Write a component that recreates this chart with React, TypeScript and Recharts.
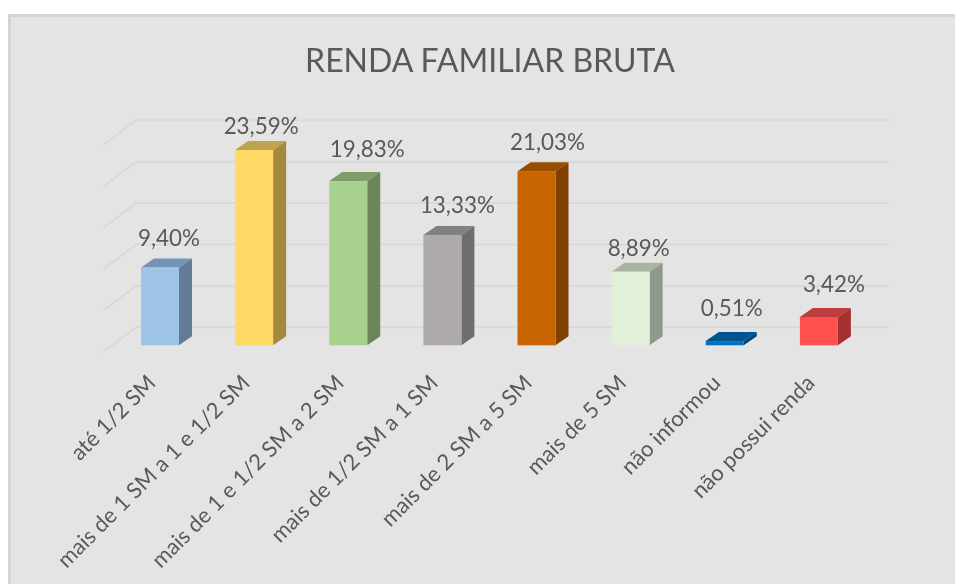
import React from "react";
import { BarChart, Bar, XAxis, YAxis, CartesianGrid, LabelList } from "recharts";

const categories = ["até 1/2 SM", "mais de 1 SM a 1 e 1/2 SM", "mais de 1 e 1/2 SM a 2 SM", "mais de 1/2 SM a 1 SM", "mais de 2 SM a 5 SM", "mais de 5 SM", "não informou", "não possui renda"];
const values = [9.40, 23.59, 19.83, 13.33, 21.03, 8.89, 0.51, 3.42];
const frontColors = ["#9dc3e6", "#ffd966", "#a9d18e", "#aeaaaa", "#c96500", "#e2f0d9", "#0070c0", "#ff5050"];
const topColors = ["#7593b3", "#bfa34d", "#7f9d6b", "#838080", "#974c00", "#aab4a3", "#005490", "#bf3c3c"];
const sideColors = ["#647b96", "#a38a40", "#6c855b", "#6f6d6d", "#804000", "#909989", "#00477a", "#a33333"];
const yTicks = [0, 5, 10, 15, 20, 25];
const data = categories.map((name, i) => ({ name, value: values[i] }));
const FONT = "Lato, 'Open Sans', sans-serif";
const TEXT = "#595959";
const DX = 13;
const DY = 9;
// The reference's data labels were moved by hand, so each has its own offset from its bar.
const labelShiftX = [9, 7, 19, 15, 11, 8, 7, 15];
const labelRise = [21, 16, 24, 22, 21, 16, 25, 25];

function Box(props: any) {
  const { x, y, width, height, index } = props;
  const b = y + height;
  const r = x + width;
  return (
    <g>
      <polygon points={`${x},${y} ${x + DX},${y - DY} ${r + DX},${y - DY} ${r},${y}`} fill={topColors[index]} />
      <polygon points={`${r},${y} ${r + DX},${y - DY} ${r + DX},${b - DY} ${r},${b}`} fill={sideColors[index]} />
      <rect x={x} y={y} width={width} height={height} fill={frontColors[index]} />
    </g>
  );
}

function GridLine(props: any) {
  const { x1, y1 } = props;
  return (
    <polyline
      points={`${x1 - 10},${y1 + 7} ${x1 + 23},${y1 - 18} 889,${y1 - 18}`}
      fill="none"
      stroke="#d9d9d9"
      strokeWidth={2}
    />
  );
}

function ValueLabel(props: any) {
  const { x, y, width, value, index } = props;
  return (
    <text x={x + width / 2 + labelShiftX[index]} y={y - labelRise[index]} textAnchor="middle" fontFamily={FONT} fontSize={22.4} fill={TEXT}>
      {value.toFixed(2).replace(".", ",")}%
    </text>
  );
}

function Tick(props: any) {
  const { x, y, payload } = props;
  const tx = x - 3;
  const ty = y + 31;
  return (
    <text
      x={tx}
      y={ty}
      textAnchor="end"
      fontFamily={FONT}
      fontSize={22}
      fill={TEXT}
      transform={`rotate(-45 ${tx} ${ty})`}
    >
      {payload.value}
    </text>
  );
}

export default function App() {
  return (
    <div style={{ position: "fixed", left: 0, top: 0, width: 955, height: 584, overflow: "hidden", background: "#fff" }}>
      <div style={{ position: "absolute", left: 8, top: 14, width: 947, height: 570, boxSizing: "border-box", background: "#e4e4e4", borderLeft: "3px solid #d4d4d4", borderTop: "3px solid #d4d4d4" }} />
      <div style={{ position: "absolute", left: 0, top: 0, filter: "blur(0.4px)" }}>
        <BarChart
          width={955}
          height={584}
          data={data}
          margin={{ top: 138.3, right: 89, bottom: 0, left: 113 }}
          barSize={38}
        >
          <text x={490} y={72} textAnchor="middle" fontFamily={FONT} fontSize={32} fill={TEXT}>RENDA FAMILIAR BRUTA</text>
          <CartesianGrid vertical={false} horizontal={(p: any) => <GridLine key={p.y1} {...p} />} />
          <YAxis hide domain={[0, 25]} ticks={yTicks} width={0} />
          <XAxis dataKey="name" interval={0} axisLine={false} tickLine={false} tick={<Tick />} height={238.7} />
          <Bar dataKey="value" shape={<Box />} isAnimationActive={false}>
            <LabelList dataKey="value" content={<ValueLabel />} />
          </Bar>
        </BarChart>
      </div>
    </div>
  );
}
